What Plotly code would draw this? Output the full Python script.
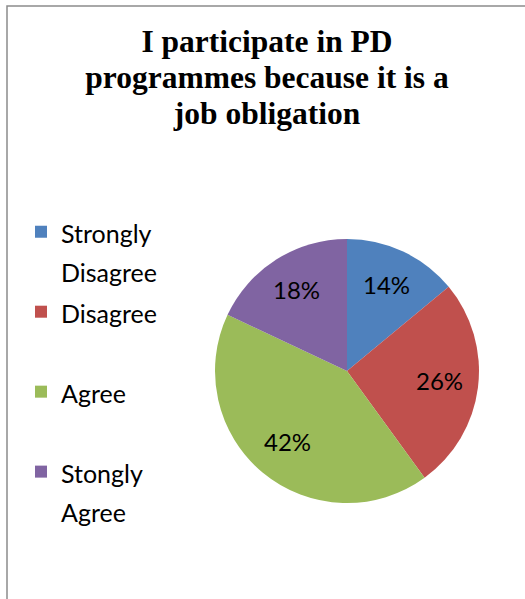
import math
import plotly.graph_objects as go

categories = ["Strongly<br>Disagree", "Disagree", "Agree", "Stongly<br>Agree"]
values = [14, 26, 42, 18]
colors = ["#4F81BD", "#C0504D", "#9BBB59", "#8064A2"]
title_lines = ["I participate in PD", "programmes because it is a", "job obligation"]

W, H = 525, 599
CX, CY, R = 347, 371, 132  # pie centre / radius in pixels

# legend entries padded to two lines each so entries are evenly spaced
legend_labels = []
for c in categories:
    lab = c if "<br>" in c else c + "<br> "
    legend_labels.append("<span style='font-size:25px'>" + lab + "</span>")

fig = go.Figure()
fig.add_trace(go.Pie(
    labels=legend_labels,
    values=values,
    sort=False,
    direction="clockwise",
    rotation=0,
    marker=dict(colors=colors, line=dict(width=0)),
    textinfo="none",
    hoverinfo="percent",
    domain=dict(x=[(CX - R) / W, (CX + R) / W],
                y=[1 - (CY + R) / H, 1 - (CY - R) / H]),
))

# percentage labels placed at 0.71 of the radius along each slice's mid-angle
total = sum(values)
annotations = []
cum = 0
for v in values:
    mid = (cum + v / 2) / total * 2 * math.pi
    cum += v
    px = CX + 0.71 * R * math.sin(mid)
    py = CY - 0.71 * R * math.cos(mid) - 2
    annotations.append(dict(
        x=px / W, y=1 - py / H, xref="paper", yref="paper",
        text=f"{round(v / total * 100)}%", showarrow=False,
        xanchor="center", yanchor="middle",
        font=dict(family="Lato", size=24, color="black"),
    ))

title_text = "<br>".join("<span style='font-size:31.5px'>" + t + "</span>" for t in title_lines)

fig.update_layout(
    width=W, height=H,
    margin=dict(l=0, r=0, t=0, b=0),
    paper_bgcolor="white",
    plot_bgcolor="white",
    title=dict(text=title_text, x=267 / W, xanchor="center",
               y=1 - 52 / H, yanchor="top", yref="paper",
               font=dict(family="Liberation Serif", size=27.7, color="black", weight="bold")),
    legend=dict(x=21 / W, xanchor="left", y=1 - 206 / H, yanchor="top",
                valign="top", font=dict(family="Lato", size=29.6, color="black"),
                bgcolor="rgba(0,0,0,0)", borderwidth=0),
    annotations=annotations,
    shapes=[dict(type="rect", xref="paper", yref="paper",
                 x0=7 / W, x1=1.05, y0=-0.05, y1=1 - 6 / H,
                 line=dict(color="#8c8c8c", width=1.5), fillcolor="rgba(0,0,0,0)")],
)

fig.write_html("out.html", config={"displayModeBar": False},
               post_script="document.body.style.margin='0px';")
